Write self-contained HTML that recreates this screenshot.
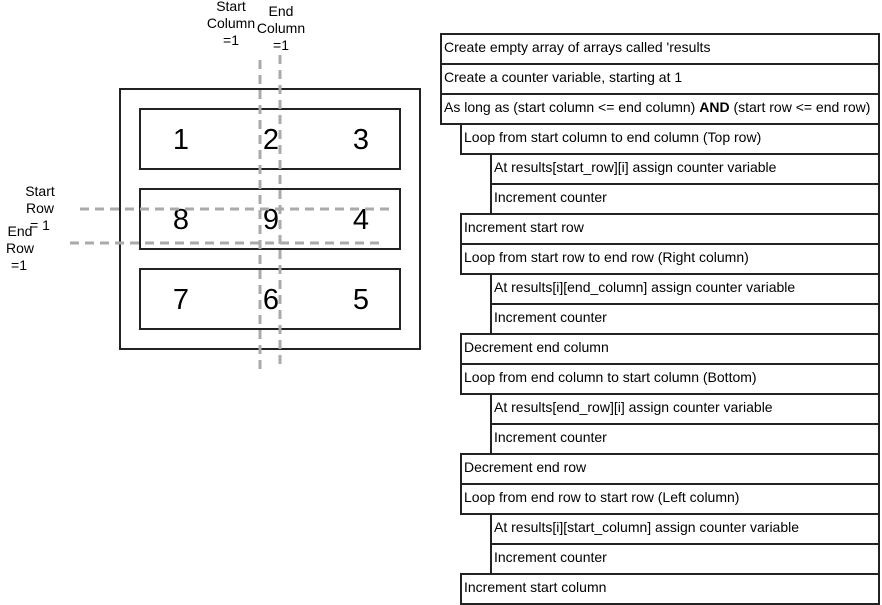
<!DOCTYPE html>
<html><head><style>
body{margin:0;background:#fff;width:882px;height:605px;overflow:hidden;position:relative;font-family:"Liberation Sans",Arial,sans-serif}
.b{position:absolute;box-sizing:border-box;border:2px solid #222;height:32px;right:2px;font-size:14px;line-height:25px;padding-left:2px;background:#fff;white-space:nowrap}
</style></head><body>
<svg width="882" height="605" style="position:absolute;left:0;top:0">
<g fill="none" stroke="#222" stroke-width="2">
<rect x="120" y="89" width="300" height="260"/>
<rect x="140" y="109" width="260" height="60"/>
<rect x="140" y="189" width="260" height="60"/>
<rect x="140" y="269" width="260" height="60"/>
</g>
<g font-family="Liberation Sans,Arial,sans-serif" font-size="29" text-anchor="middle" fill="#000">
<text x="181" y="149">1</text><text x="271" y="149">2</text><text x="361" y="149">3</text>
<text x="181" y="229">8</text><text x="271" y="229">9</text><text x="361" y="229">4</text>
<text x="181" y="309">7</text><text x="271" y="309">6</text><text x="361" y="309">5</text>
</g>
<g stroke="#aaa" stroke-width="3" stroke-dasharray="9,6" fill="none">
<line x1="260" y1="60" x2="260" y2="370"/>
<line x1="280" y1="55" x2="280" y2="365"/>
<line x1="80" y1="209" x2="392" y2="209"/>
<line x1="70" y1="243" x2="382" y2="243"/>
</g>
<g font-family="Liberation Sans,Arial,sans-serif" font-size="14" text-anchor="middle" fill="#000">
<text x="231" y="11">Start</text><text x="231" y="28">Column</text><text x="231" y="45">=1</text>
<text x="281" y="16">End</text><text x="281" y="33">Column</text><text x="281" y="50">=1</text>
<text x="40" y="196">Start</text><text x="40" y="213">Row</text><text x="40" y="230">= 1</text>
<text x="20" y="236">End</text><text x="20" y="253">Row</text><text x="19" y="270">=1</text>
</g>
</svg>
<div class="b" style="left:440px;top:33px">Create empty array of arrays called 'results</div>
<div class="b" style="left:440px;top:63px">Create a counter variable, starting at 1</div>
<div class="b" style="left:440px;top:93px">As long as (start column &lt;= end column) <b>AND</b> (start row &lt;= end row)</div>
<div class="b" style="left:460px;top:123px">Loop from start column to end column (Top row)</div>
<div class="b" style="left:490px;top:153px">At results[start_row][i] assign counter variable</div>
<div class="b" style="left:490px;top:183px">Increment counter</div>
<div class="b" style="left:460px;top:213px">Increment start row</div>
<div class="b" style="left:460px;top:243px">Loop from start row to end row (Right column)</div>
<div class="b" style="left:490px;top:273px">At results[i][end_column] assign counter variable</div>
<div class="b" style="left:490px;top:303px">Increment counter</div>
<div class="b" style="left:460px;top:333px">Decrement end column</div>
<div class="b" style="left:460px;top:363px">Loop from end column to start column (Bottom)</div>
<div class="b" style="left:490px;top:393px">At results[end_row][i] assign counter variable</div>
<div class="b" style="left:490px;top:423px">Increment counter</div>
<div class="b" style="left:460px;top:453px">Decrement end row</div>
<div class="b" style="left:460px;top:483px">Loop from end row to start row (Left column)</div>
<div class="b" style="left:490px;top:513px">At results[i][start_column] assign counter variable</div>
<div class="b" style="left:490px;top:543px">Increment counter</div>
<div class="b" style="left:460px;top:573px">Increment start column</div>
</body></html>
